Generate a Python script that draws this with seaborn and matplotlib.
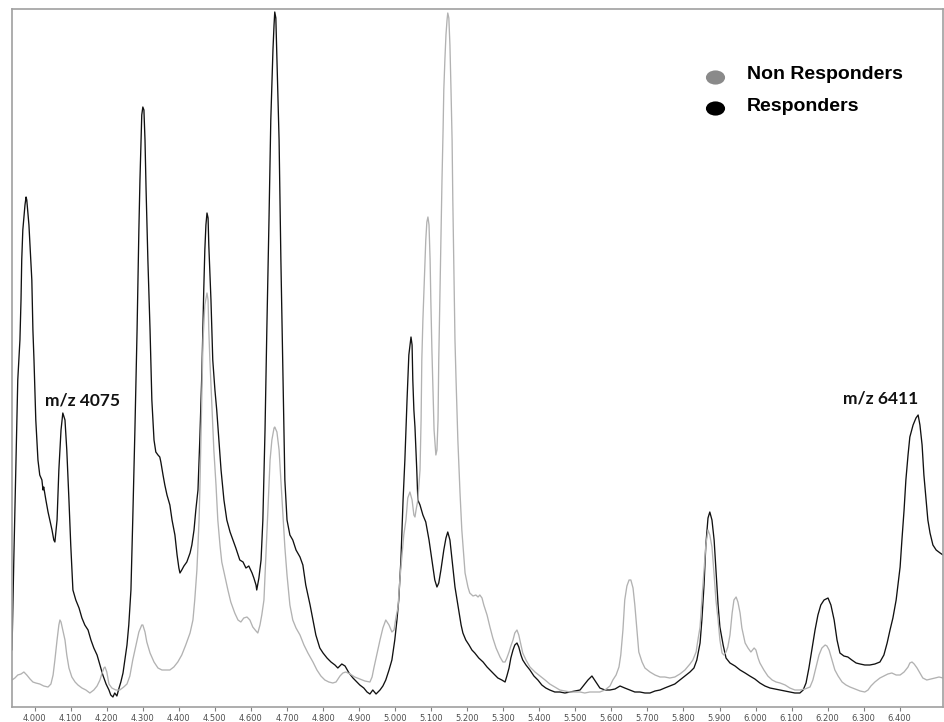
import numpy as np
import pandas as pd
import matplotlib
matplotlib.use("Agg")
import matplotlib.pyplot as plt
import seaborn as sns
from matplotlib.path import Path
from matplotlib.transforms import Affine2D
from matplotlib.ticker import FuncFormatter

# ---------------- data (m/z, intensity in arbitrary units) ----------------
resp_mz = [3937, 3942, 3948, 3953, 3959, 3962, 3964, 3967, 3973, 3976, 3978, 3984, 3989, 3992, 3995, 3998,
           4003, 4009, 4014, 4020, 4023, 4025, 4031, 4037, 4042, 4048, 4053, 4056, 4062, 4067, 4073, 4078,
           4084, 4089, 4095, 4100, 4106, 4114, 4123, 4131, 4139, 4148, 4156, 4164, 4173, 4181, 4189, 4198,
           4206, 4211, 4217, 4222, 4228, 4234, 4239, 4245, 4250, 4256, 4261, 4267, 4272, 4278, 4284, 4289,
           4292, 4295, 4297, 4300, 4303, 4306, 4309, 4314, 4320, 4325, 4331, 4336, 4342, 4347, 4350, 4356,
           4361, 4367, 4375, 4381, 4389, 4395, 4400, 4403, 4408, 4414, 4422, 4431, 4436, 4442, 4447, 4453,
           4458, 4464, 4469, 4472, 4475, 4478, 4481, 4483, 4489, 4494, 4500, 4505, 4511, 4517, 4525, 4533,
           4542, 4550, 4558, 4569, 4578, 4586, 4594, 4603, 4608, 4614, 4616, 4622, 4628, 4633, 4639, 4644,
           4650, 4655, 4661, 4664, 4666, 4669, 4672, 4678, 4683, 4689, 4694, 4700, 4708, 4716, 4725, 4736,
           4744, 4752, 4764, 4772, 4780, 4791, 4800, 4811, 4822, 4833, 4841, 4852, 4861, 4872, 4883, 4894,
           4902, 4913, 4922, 4930, 4938, 4947, 4958, 4966, 4974, 4983, 4991, 4999, 5005, 5010, 5016, 5022,
           5027, 5033, 5038, 5044, 5047, 5049, 5052, 5055, 5060, 5063, 5069, 5077, 5085, 5094, 5102, 5110,
           5116, 5121, 5127, 5135, 5141, 5146, 5152, 5158, 5166, 5174, 5183, 5188, 5196, 5205, 5213, 5221,
           5232, 5244, 5255, 5263, 5274, 5285, 5296, 5305, 5310, 5316, 5321, 5327, 5332, 5338, 5343, 5349,
           5354, 5363, 5374, 5385, 5396, 5407, 5418, 5429, 5443, 5457, 5471, 5485, 5499, 5513, 5526, 5535,
           5546, 5557, 5568, 5582, 5596, 5610, 5624, 5637, 5651, 5665, 5679, 5693, 5707, 5721, 5735, 5748,
           5762, 5776, 5790, 5804, 5818, 5829, 5837, 5846, 5851, 5857, 5862, 5868, 5873, 5879, 5885, 5890,
           5896, 5901, 5910, 5918, 5929, 5943, 5957, 5971, 5984, 5998, 6012, 6026, 6040, 6054, 6068, 6082,
           6095, 6109, 6123, 6132, 6140, 6148, 6156, 6165, 6173, 6181, 6190, 6201, 6209, 6218, 6226, 6234,
           6245, 6256, 6267, 6279, 6290, 6303, 6317, 6331, 6345, 6356, 6365, 6373, 6381, 6390, 6395, 6401,
           6406, 6412, 6417, 6423, 6428, 6437, 6445, 6451, 6456, 6462, 6467, 6473, 6478, 6484, 6492, 6501,
           6512, 6520]
resp_int = [57, 147, 247, 327, 367, 407, 447, 477, 502, 510, 507, 482, 447, 427, 377, 347,
            287, 247, 232, 227, 217, 220, 207, 195, 187, 177, 167, 165, 187, 237, 277, 294,
            287, 257, 207, 162, 117, 107, 99, 89, 82, 77, 67, 59, 52, 42, 32, 23,
            17, 12, 10, 14, 11, 19, 25, 34, 47, 62, 82, 117, 187, 277, 377, 477,
            527, 567, 592, 600, 597, 567, 517, 447, 377, 307, 267, 255, 252, 250, 245, 232,
            222, 212, 202, 187, 172, 152, 139, 134, 137, 141, 145, 154, 162, 177, 197, 217,
            267, 337, 417, 457, 482, 494, 489, 462, 407, 347, 317, 297, 267, 237, 207, 187,
            175, 167, 159, 147, 145, 139, 141, 134, 129, 122, 117, 129, 147, 187, 277, 377,
            487, 587, 657, 682, 695, 689, 647, 567, 447, 327, 227, 187, 172, 167, 157, 150,
            142, 122, 102, 87, 72, 59, 54, 49, 45, 42, 39, 43, 41, 34, 29, 25,
            22, 19, 15, 13, 17, 13, 17, 21, 27, 37, 47, 67, 87, 107, 147, 207,
            247, 307, 352, 370, 362, 327, 297, 280, 237, 207, 202, 192, 185, 167, 147, 127,
            120, 124, 137, 157, 169, 175, 167, 147, 120, 102, 82, 74, 67, 62, 57, 54,
            49, 45, 40, 37, 33, 29, 27, 25, 31, 39, 49, 57, 62, 64, 60, 52,
            47, 42, 37, 31, 27, 22, 19, 17, 15, 15, 14, 15, 16, 17, 23, 27,
            31, 25, 19, 17, 17, 18, 21, 19, 17, 15, 15, 14, 14, 16, 17, 19,
            21, 23, 27, 31, 35, 39, 47, 64, 87, 122, 162, 189, 195, 187, 167, 137,
            102, 80, 62, 49, 44, 41, 37, 34, 31, 28, 24, 21, 19, 18, 17, 16,
            15, 14, 14, 17, 24, 39, 57, 77, 92, 102, 107, 109, 102, 87, 67, 54,
            51, 50, 47, 44, 43, 42, 42, 43, 45, 52, 64, 77, 89, 107, 122, 140,
            167, 197, 227, 252, 270, 282, 289, 292, 282, 262, 232, 207, 187, 174, 162, 157,
            154, 152]

nonresp_mz = [3937, 3945, 3953, 3962, 3970, 3978, 3987, 3995, 4003, 4014, 4025, 4037, 4045, 4051, 4056, 4062,
              4067, 4070, 4073, 4078, 4084, 4089, 4095, 4103, 4112, 4120, 4131, 4142, 4153, 4164, 4173, 4181,
              4186, 4192, 4195, 4200, 4206, 4214, 4225, 4236, 4247, 4256, 4264, 4272, 4281, 4289, 4297, 4300,
              4306, 4311, 4320, 4331, 4342, 4353, 4364, 4375, 4386, 4397, 4408, 4419, 4431, 4439, 4444, 4450,
              4456, 4458, 4461, 4464, 4467, 4472, 4478, 4481, 4483, 4486, 4492, 4497, 4503, 4508, 4514, 4519,
              4528, 4536, 4544, 4555, 4564, 4572, 4580, 4589, 4597, 4605, 4614, 4619, 4625, 4630, 4636, 4641,
              4647, 4653, 4658, 4664, 4666, 4672, 4678, 4683, 4689, 4694, 4700, 4708, 4716, 4725, 4736, 4747,
              4758, 4772, 4783, 4794, 4805, 4816, 4827, 4836, 4847, 4855, 4863, 4875, 4888, 4902, 4916, 4930,
              4936, 4941, 4949, 4958, 4966, 4974, 4983, 4991, 4997, 5002, 5008, 5013, 5019, 5024, 5030, 5035,
              5041, 5047, 5052, 5055, 5058, 5063, 5069, 5072, 5074, 5077, 5080, 5085, 5088, 5091, 5094, 5097,
              5099, 5102, 5105, 5108, 5113, 5116, 5119, 5121, 5124, 5127, 5130, 5133, 5135, 5138, 5141, 5144,
              5146, 5149, 5152, 5155, 5158, 5160, 5163, 5166, 5169, 5174, 5180, 5185, 5194, 5202, 5207, 5216,
              5224, 5230, 5235, 5241, 5246, 5255, 5263, 5271, 5280, 5291, 5299, 5305, 5310, 5316, 5321, 5327,
              5332, 5338, 5343, 5349, 5354, 5363, 5374, 5388, 5402, 5416, 5429, 5443, 5457, 5471, 5485, 5499,
              5513, 5526, 5540, 5554, 5568, 5582, 5596, 5604, 5613, 5621, 5626, 5632, 5637, 5643, 5649, 5654,
              5660, 5665, 5671, 5676, 5685, 5693, 5707, 5721, 5735, 5748, 5762, 5776, 5790, 5804, 5818, 5826,
              5835, 5840, 5846, 5851, 5857, 5862, 5868, 5873, 5879, 5885, 5890, 5896, 5901, 5907, 5912, 5918,
              5923, 5929, 5935, 5940, 5946, 5951, 5957, 5962, 5971, 5979, 5987, 5996, 6001, 6007, 6012, 6023,
              6034, 6046, 6057, 6068, 6082, 6095, 6109, 6123, 6137, 6151, 6159, 6168, 6176, 6184, 6193, 6198,
              6204, 6212, 6220, 6229, 6240, 6251, 6262, 6276, 6290, 6303, 6312, 6320, 6331, 6345, 6356, 6367,
              6378, 6390, 6401, 6412, 6423, 6428, 6434, 6440, 6448, 6456, 6464, 6475, 6487, 6498, 6509, 6520]
nonresp_int = [27, 29, 32, 33, 35, 32, 28, 25, 24, 23, 21, 20, 23, 32, 47, 67,
               82, 87, 85, 77, 67, 52, 39, 30, 25, 22, 19, 17, 14, 17, 21, 27,
               33, 39, 40, 35, 23, 19, 17, 17, 20, 23, 31, 47, 62, 75, 82, 82,
               75, 65, 54, 45, 39, 37, 37, 37, 40, 45, 52, 62, 74, 87, 107, 137,
               187, 214, 267, 317, 367, 402, 414, 407, 377, 347, 297, 257, 222, 187, 162, 145,
               130, 117, 105, 94, 87, 85, 89, 90, 87, 80, 76, 74, 82, 92, 107, 147,
               197, 247, 267, 279, 280, 275, 257, 227, 192, 160, 132, 102, 87, 79, 72, 62,
               54, 45, 37, 31, 27, 25, 24, 25, 31, 34, 35, 33, 30, 28, 26, 25,
               30, 39, 52, 67, 79, 87, 82, 75, 77, 89, 100, 127, 152, 172, 187, 209,
               215, 207, 192, 190, 197, 207, 237, 287, 347, 387, 417, 467, 485, 490, 482, 447,
               407, 357, 317, 277, 252, 257, 287, 347, 407, 467, 527, 577, 617, 647, 672, 687,
               694, 689, 662, 617, 567, 507, 437, 367, 327, 267, 214, 177, 134, 120, 114, 111,
               112, 110, 112, 109, 102, 92, 80, 69, 59, 50, 45, 45, 49, 55, 61, 67,
               74, 77, 72, 62, 54, 47, 40, 35, 31, 27, 23, 20, 17, 16, 15, 15,
               15, 14, 15, 15, 15, 17, 21, 27, 32, 40, 52, 77, 107, 121, 127, 127,
               119, 102, 77, 55, 45, 39, 35, 32, 30, 30, 29, 30, 33, 37, 43, 47,
               55, 67, 80, 107, 137, 162, 177, 172, 160, 132, 107, 87, 67, 54, 52, 55,
               60, 72, 94, 107, 110, 105, 94, 79, 64, 59, 55, 59, 57, 49, 44, 37,
               31, 27, 25, 24, 22, 19, 17, 17, 18, 20, 27, 40, 52, 59, 62, 61,
               57, 47, 37, 31, 25, 22, 20, 18, 16, 15, 17, 21, 25, 29, 31, 33,
               34, 32, 32, 35, 40, 44, 45, 43, 39, 34, 29, 27, 28, 29, 30, 29]

groups = ["Responders", "Non Responders"]
group_colors = ["#111111", "#b2b2b2"]
tick_values = list(range(4000, 6401, 100))
annotations = [("m/z 4075", 4132, 307), ("m/z 6411", 6348, 309)]

# ---------------- build table ----------------
df = pd.concat([
    pd.DataFrame({"mz": resp_mz, "intensity": resp_int, "group": groups[0]}),
    pd.DataFrame({"mz": nonresp_mz, "intensity": nonresp_int, "group": groups[1]}),
], ignore_index=True)

sns.set_style("white")
plt.rcParams["font.family"] = ["DejaVu Sans"]

fig = plt.figure(figsize=(9.44, 7.22), dpi=100)
ax = fig.add_axes([12 / 944, 15 / 722, 931 / 944, 698 / 722])

sns.lineplot(data=df, x="mz", y="intensity", hue="group", hue_order=groups,
             palette=dict(zip(groups, group_colors)), estimator=None, sort=False,
             legend=False, linewidth=0.95, ax=ax)

ax.set_xlim(3937, 6520)
ax.set_ylim(0, 698)
ax.set_xlabel("")
ax.set_ylabel("")
ax.set_yticks([])
ax.set_xticks(tick_values)
ax.xaxis.set_major_formatter(FuncFormatter(lambda v, p: f"{int(v):,}".replace(",", ".")))
ax.tick_params(axis="x", direction="out", length=3, width=0.8, color="#808080",
               labelsize=6, labelcolor="#505050", pad=2, bottom=True)
for s in ax.spines.values():
    s.set_visible(True)
    s.set_color("#a0a0a0")
    s.set_linewidth(1.2)

# annotations
for txt, xv, yv in annotations:
    ax.text(xv, yv, txt, ha="center", va="center", fontsize=12.5,
            fontweight="bold", family=["Lato", "DejaVu Sans"], color="#111111")

# legend (ellipse markers + bold text)
ell = Path.unit_circle().transformed(Affine2D().scale(1.35, 1.0))
leg_y = [0.9026, 0.858]
leg_col = ["#8a8a8a", "#000000"]
leg_txt = ["Non Responders", "Responders"]
for yy, cc, tt in zip(leg_y, leg_col, leg_txt):
    ax.scatter([0.755], [yy], s=190, marker=ell, color=cc, transform=ax.transAxes,
               linewidths=0, zorder=5, clip_on=False)
    ax.text(0.7895, yy + 0.003, tt, transform=ax.transAxes, ha="left", va="center",
            fontsize=14, fontweight="bold", family=["Liberation Sans", "DejaVu Sans"],
            color="#000000")

fig.savefig("out.png", dpi=100)
